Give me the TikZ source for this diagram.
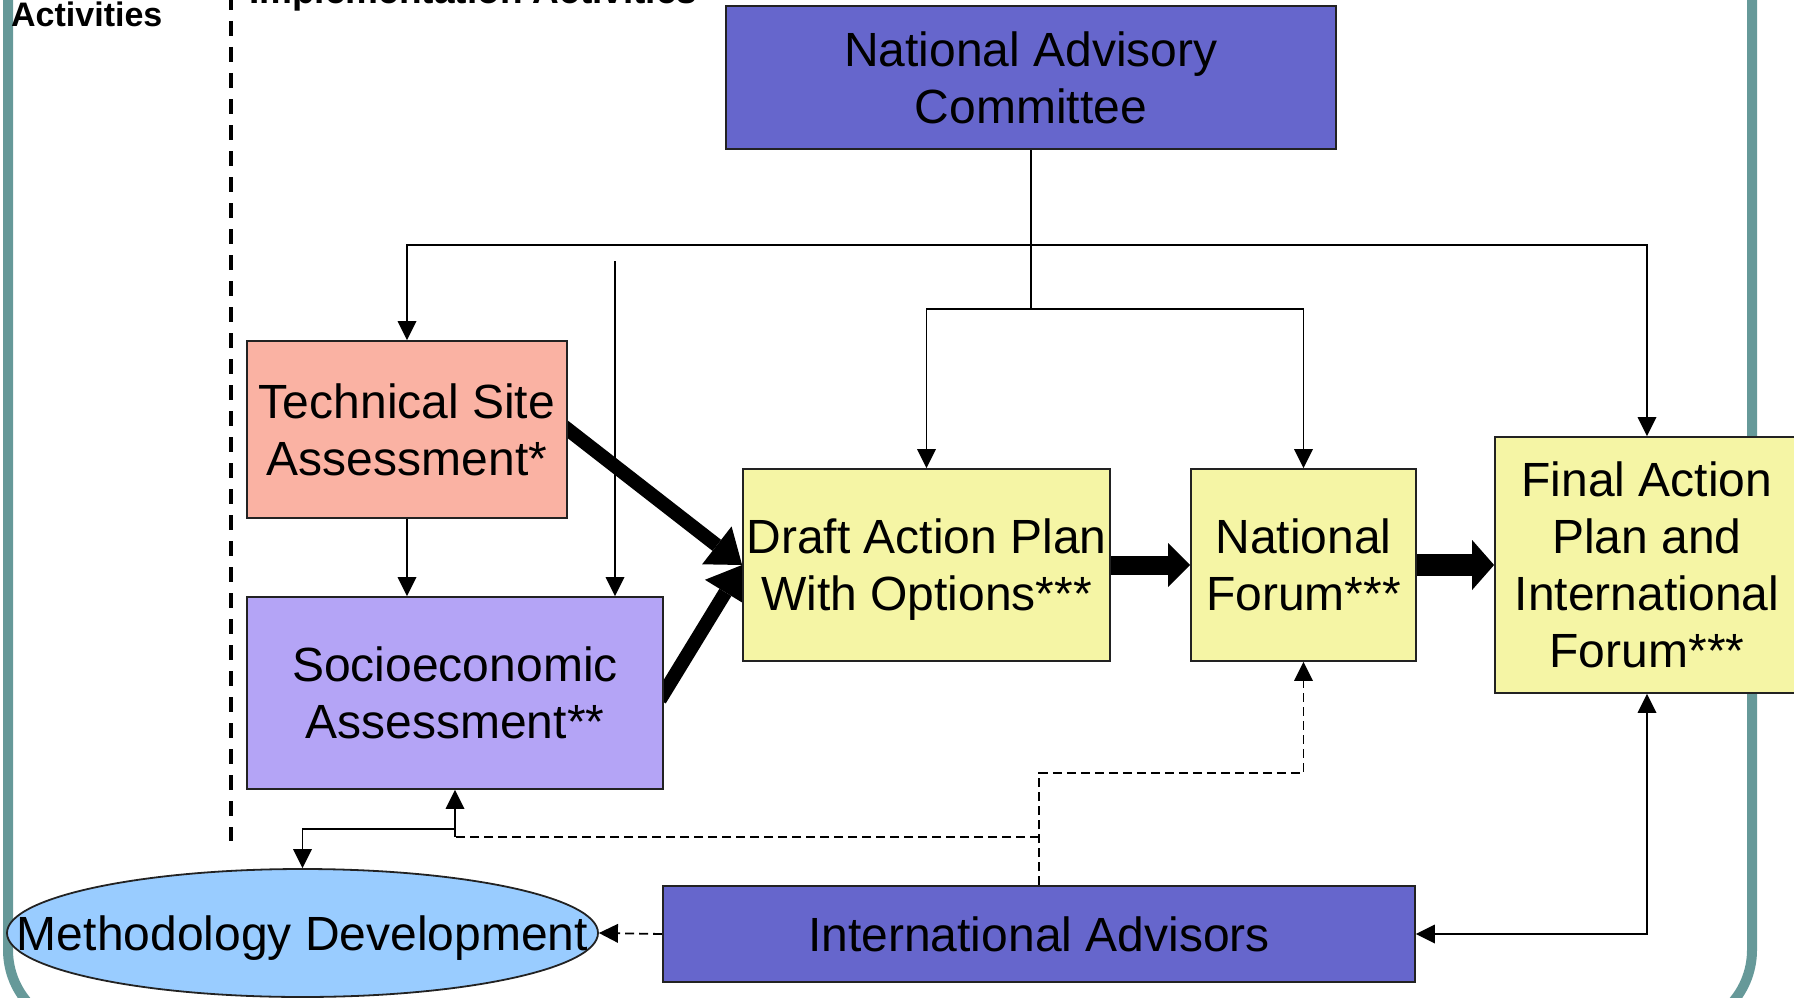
\documentclass[tikz,border=0pt]{standalone}
\usepackage{fontspec}
\setmainfont{Liberation Sans}
\usetikzlibrary{arrows.meta,shapes.geometric,backgrounds}
\definecolor{advblue}{HTML}{6666CC}
\definecolor{tsafill}{HTML}{FAB2A3}
\definecolor{sociofill}{HTML}{B4A4F6}
\definecolor{yelfill}{HTML}{F5F5A5}
\definecolor{methfill}{HTML}{99CCFF}
\definecolor{framecol}{HTML}{669999}
\definecolor{boxline}{HTML}{222222}
\begin{document}
\begin{tikzpicture}[x=1pt,y=-1pt,
  box/.style={draw=boxline, line width=1.8pt, inner sep=0pt, align=center, text depth=0pt,
              font=\fontsize{48}{57}\selectfont},
  lbl/.style={inner sep=0pt, align=center, text depth=0pt, font=\fontsize{48}{57}\selectfont},
  conn/.style={line width=1.8pt, -{Triangle[length=19pt,width=19pt,line width=0pt]}},
  dconn/.style={conn, dash pattern=on 9pt off 5pt},
  dline/.style={line width=1.8pt, dash pattern=on 9pt off 5pt},
  sline/.style={line width=1.8pt},
  biconn/.style={line width=1.8pt, {Triangle[length=19pt,width=19pt,line width=0pt]}-{Triangle[length=19pt,width=19pt,line width=0pt]}},
  fatA/.style={line width=14pt, shorten <=-8pt, -{Triangle[length=32pt,width=48pt,line width=0pt]}},
  fatB/.style={line width=19pt, -{Triangle[length=22pt,width=44pt,line width=0pt]}},
  fatC/.style={line width=22pt, -{Triangle[length=22pt,width=50pt,line width=0pt]}},
  frame/.style={line width=10pt, draw=framecol, rounded corners=80pt},
  divider/.style={line width=3.5pt, dash pattern=on 15pt off 11pt},
  title/.style={inner sep=0pt, anchor=base west}]
\useasboundingbox (0,0) rectangle (1794,998);
\clip (0,0) rectangle (1794,998);

% titles
\node[title, font=\bfseries\fontsize{34}{40}\selectfont] (acttitle) at (11,27) {Activities};
\node[title, font=\bfseries\fontsize{37}{44}\selectfont] (imptitle) at (249,4) {Implementation Activities};

% nodes
\node[box, fill=advblue, minimum width=610pt, minimum height=143pt] (nac) at (1031,77.5) {National Advisory\\Committee};
\node[box, fill=tsafill, minimum width=320pt, minimum height=177pt] (tsa) at (407,429.5) {Technical Site\\Assessment*};
\node[box, fill=sociofill, minimum width=416pt, minimum height=192pt] (socio) at (455,693) {Socioeconomic\\Assessment**};
\node[box, fill=yelfill, minimum width=367pt, minimum height=192pt] (draft) at (926.5,565) {Draft Action Plan\\With Options***};
\node[box, fill=yelfill, minimum width=225pt, minimum height=192pt] (nf) at (1303.5,565) {National\\Forum***};
\node[box, fill=yelfill, minimum width=304pt, minimum height=256pt] (final) at (1647,565) {Final Action\\Plan and\\International\\Forum***};
\node[box, fill=advblue, minimum width=752pt, minimum height=96pt] (ia) at (1039,934) {International Advisors};
\node[ellipse, draw=boxline, line width=1.8pt, fill=methfill, minimum width=591pt, minimum height=128pt, inner sep=0pt] (meth) at (302.5,933) {};
\node[lbl] (methtxt) at (meth.center) {Methodology Development};

% coordinates
\coordinate (j1) at (1031,245);
\coordinate (j2) at (1031,309);
\coordinate (v1) at (615,261);
\coordinate (d1) at (1039,773);
\coordinate (d2) at (1039,837);
\coordinate (d3) at (455,837);
\coordinate (d4) at (455,829);
\coordinate (dv1) at (231,-5);
\coordinate (dv2) at (231,841);

\begin{pgfonlayer}{background}
\clip (0,0) rectangle (1794,998);
\draw[frame] (8,-100) rectangle (1752,1030);
\draw[divider] (dv1) -- (dv2);
% from national advisory committee
\draw[sline] (nac.south) -- (j2);
\draw[conn] (j1) -| (tsa.north);
\draw[conn] (j1) -| (final.north);
\draw[conn] (j2) -| (draft.north);
\draw[conn] (j2) -| (nf.north);
\draw[conn] (v1) -- (v1 |- socio.north);
\draw[conn] (tsa.south) -- (tsa.south |- socio.north);
% thick flow arrows
\draw[fatA] (tsa.east) -- (draft.west);
\draw[fatA] (socio.east) -- (draft.west);
\draw[fatB] (draft.east) -- (nf.west);
\draw[fatC] (nf.east) -- (final.west);
% international advisors links
\draw[dconn] (ia.west) -- (meth.east);
\draw[dconn] (ia.north) -- (d1) -| (nf.south);
\draw[dline] (d2) -- (d3);
\draw[conn] (d3) -- (d3 |- socio.south);
\draw[conn] (d4) -| (meth.north);
\draw[biconn] (ia.east) -| (final.south);
\end{pgfonlayer}
\end{tikzpicture}
\end{document}
